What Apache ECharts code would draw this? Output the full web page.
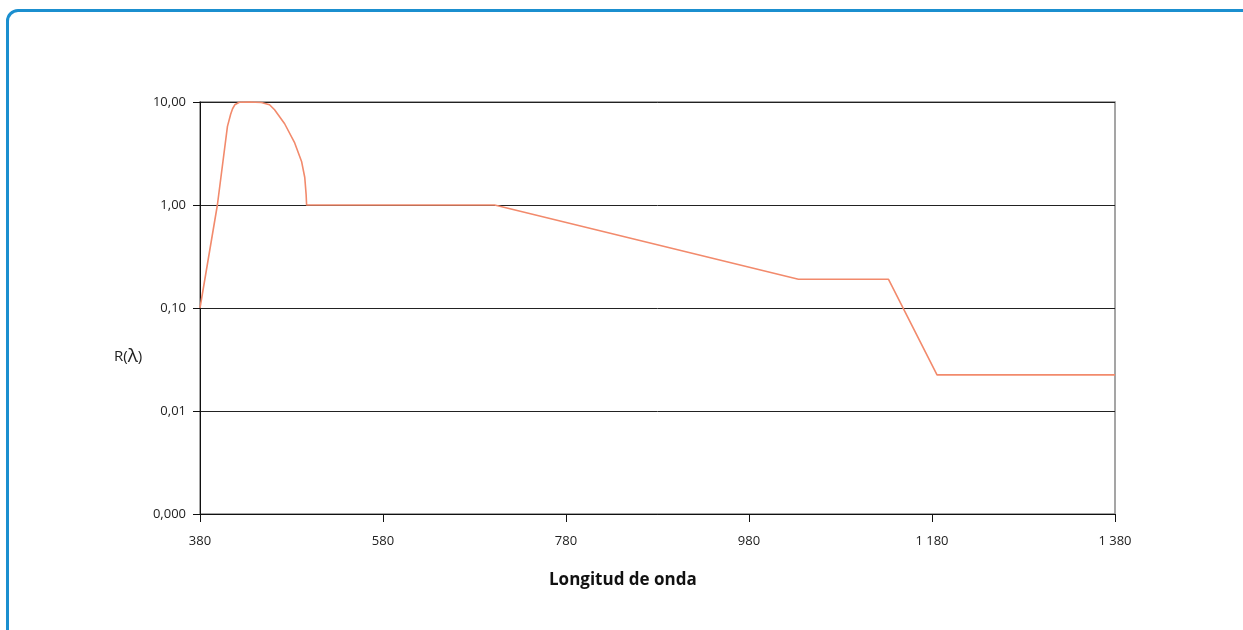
<!DOCTYPE html>
<html>
<head>
<meta charset="utf-8">
<script src="https://cdn.jsdelivr.net/npm/echarts@6/dist/echarts.min.js"></script>
<style>
  html, body { margin: 0; padding: 0; background: #ffffff; }
  #card { position: absolute; left: 6px; top: 9px; width: 1400px; height: 800px;
          border: 3px solid #1b8fcf; border-radius: 12px; box-sizing: border-box; }
  #chart { position: absolute; left: 0; top: 0; width: 1243px; height: 630px; }
</style>
</head>
<body>
<div id="card"></div>
<div id="chart"></div>
<script>
// Wavelength (nm) and R(λ) values
const wavelengths = [380, 399, 410, 413.5, 415.6, 418, 420, 423, 434, 447, 456, 461.5, 472.5, 483.5, 491, 494.5, 496, 496.5, 702, 1034, 1132.5, 1185.5, 1380];
const reflectance = [0.1, 1.0, 5.8, 7.6, 8.6, 9.4, 9.75, 9.95, 10, 9.9, 9.4, 8.4, 6.15, 4.0, 2.65, 1.85, 1.26, 1.0, 1.0, 0.19, 0.19, 0.0224, 0.0224];

const xTickValues = [380, 580, 780, 980, 1180, 1380];
const xTickLabels = ['380', '580', '780', '980', '1 180', '1 380'];
const yTickExponents = [-3, -2, -1, 0, 1];
const yTickLabels = ['0,000', '0,01', '0,10', '1,00', '10,00'];

const xTitle = 'Longitud de onda';

const seriesData = wavelengths.map((w, i) => [w, reflectance[i]]);
const FONT = '"Open Sans", "Noto Sans", sans-serif';

const chart = echarts.init(document.getElementById('chart'), null, { renderer: 'canvas' });
chart.setOption({
  backgroundColor: 'transparent',
  animation: false,
  grid: { left: 200, right: 128, top: 102, bottom: 116, show: true, borderColor: '#888', borderWidth: 1.5, backgroundColor: 'transparent' },
  xAxis: {
    type: 'value', min: 380, max: 1380,
    axisLine: { show: true, lineStyle: { color: '#111', width: 1 } },
    axisTick: { show: true, length: 8, customValues: xTickValues, lineStyle: { color: '#111' } },
    axisLabel: {
      customValues: xTickValues, margin: 21, fontFamily: FONT, fontSize: 13, color: '#222',
      formatter: v => { const i = xTickValues.indexOf(Math.round(v)); return i >= 0 ? xTickLabels[i] : ''; }
    },
    splitLine: { show: false }
  },
  yAxis: {
    type: 'log', logBase: 10, min: 0.001, max: 10,
    axisLine: { show: true, lineStyle: { color: '#111', width: 1 } },
    axisTick: { show: true, length: 7, lineStyle: { color: '#111' } },
    axisLabel: {
      margin: 14, fontFamily: FONT, fontSize: 13, color: '#222',
      formatter: v => { const e = Math.round(Math.log10(v)); const i = yTickExponents.indexOf(e); return i >= 0 ? yTickLabels[i] : ''; }
    },
    splitLine: { show: true, lineStyle: { color: '#222', width: 1 } },
    minorTick: { show: false }
  },
  series: [{
    type: 'line', data: seriesData, showSymbol: false, clip: false,
    lineStyle: { color: '#f28a6c', width: 1.6, join: 'round' }
  }],
  graphic: [
    { type: 'text', left: 114, top: 347, style: { text: '{a|R(}{b|λ}{a|)}', rich: { a: { fontFamily: FONT, fontSize: 15, fill: '#222' }, b: { fontFamily: FONT, fontSize: 19, fill: '#222' } } } },
    { type: 'text', left: 549, top: 572, style: { text: xTitle, fontFamily: FONT, fontSize: 17, fontWeight: 'bold', fill: '#111' } }
  ]
});
</script>
</body>
</html>
